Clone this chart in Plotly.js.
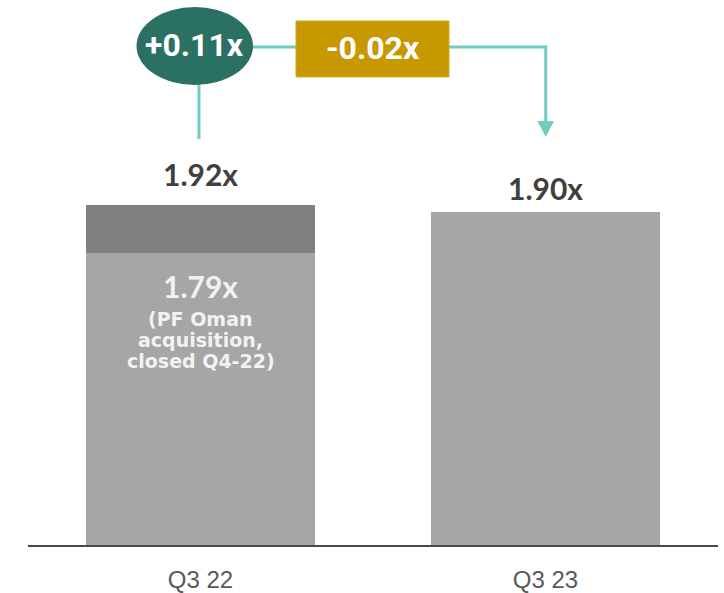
<!DOCTYPE html>
<html>
<head>
<meta charset="utf-8">
<script src="https://cdn.plot.ly/plotly-3.0.1.min.js"></script>
<style>
  html, body { margin: 0; padding: 0; background: #ffffff; }
  #chart { width: 724px; height: 593px; }
</style>
</head>
<body>
<div id="chart"></div>
<script>
// ---- data ----
const categories = ['Q3 22', 'Q3 23'];
const baseValues = [1.79, 1.90];          // PF Oman / reported leverage
const totalValues = [1.92, 1.90];         // total leverage labels
const totalLabels = ['1.92x', '1.90x'];
const baseLabel = '1.79x';
const baseNote = ['(PF Oman', 'acquisition,', 'closed Q4-22)'];
const bridgeLabels = ['+0.11x', '-0.02x'];

const topSegment = totalValues.map((t, i) => Math.max(0, +(t - baseValues[i]).toFixed(2)));

// ---- layout helpers (pixel -> paper) ----
const W = 724, H = 593;
const M = { l: 28, r: 6, t: 0, b: 48 };
const PW = W - M.l - M.r, PH = H - M.t - M.b;
const px = x => (x - M.l) / PW;
const py = y => (H - M.b - y) / PH;

const lineColor = '#6FCDBF';
const darkText = '#404040';

const traces = [
  {
    type: 'bar', x: categories, y: baseValues, width: 0.666,
    marker: { color: '#A6A6A6', line: { width: 0 } }, hoverinfo: 'skip'
  },
  {
    type: 'bar', x: categories, y: topSegment, width: 0.666,
    marker: { color: '#7F7F7F', line: { width: 0 } }, hoverinfo: 'skip'
  }
];

const annotations = [];
const totalShift = [31, 24];
categories.forEach((c, i) => {
  annotations.push({
    x: c, y: totalValues[i], xref: 'x', yref: 'y', yanchor: 'middle', yshift: totalShift[i],
    text: '<b>' + totalLabels[i] + '</b>', showarrow: false,
    font: { family: 'Lato, DejaVu Sans, sans-serif', size: 30, color: darkText, weight: 900 }
  });
});
annotations.push({
  x: categories[0], y: baseValues[0], xref: 'x', yref: 'y', yanchor: 'middle', yshift: -33,
  text: '<b>' + baseLabel + '</b>', showarrow: false,
  font: { family: 'Lato, DejaVu Sans, sans-serif', size: 30, color: '#F2F2F2', weight: 900 }
});
const noteShift = [-66, -87, -108];
baseNote.forEach((t, k) => {
  annotations.push({
    x: categories[0], y: baseValues[0], xref: 'x', yref: 'y', yanchor: 'middle', yshift: noteShift[k],
    text: '<b>' + t + '</b>', showarrow: false,
    font: { family: 'DejaVu Sans, sans-serif', size: 19, color: '#F2F2F2' }
  });
});
annotations.push({
  x: px(194.5), y: py(45), xref: 'paper', yref: 'paper', xanchor: 'center', yanchor: 'middle',
  text: '<b>' + bridgeLabels[0] + '</b>', showarrow: false,
  font: { family: 'Roboto, sans-serif', size: 32, color: '#FFFFFF' }
});
annotations.push({
  x: px(373), y: py(48), xref: 'paper', yref: 'paper', xanchor: 'center', yanchor: 'middle',
  text: '<b>' + bridgeLabels[1] + '</b>', showarrow: false,
  font: { family: 'Roboto, sans-serif', size: 32, color: '#FFFFFF' }
});

const shapes = [
  // connector lines
  { type: 'line', xref: 'paper', yref: 'paper', x0: px(199), x1: px(199), y0: py(80), y1: py(139),
    line: { color: lineColor, width: 3 } },
  { type: 'line', xref: 'paper', yref: 'paper', x0: px(245), x1: px(300), y0: py(47), y1: py(47),
    line: { color: lineColor, width: 3 } },
  { type: 'path', xref: 'paper', yref: 'paper',
    path: `M ${px(445)} ${py(47)} L ${px(545.7)} ${py(47)} L ${px(545.7)} ${py(123)}`,
    line: { color: lineColor, width: 3 } },
  { type: 'path', xref: 'paper', yref: 'paper',
    path: `M ${px(537.5)} ${py(121)} L ${px(554)} ${py(121)} L ${px(545.7)} ${py(137)} Z`,
    fillcolor: lineColor, line: { color: lineColor, width: 0 } },
  // ellipse and box
  { type: 'circle', xref: 'paper', yref: 'paper', x0: px(136.5), x1: px(253), y0: py(85), y1: py(7),
    fillcolor: '#2A7163', line: { width: 0 } },
  { type: 'rect', xref: 'paper', yref: 'paper', x0: px(296), x1: px(449), y0: py(77), y1: py(21),
    fillcolor: '#C89800', line: { color: '#D4A92A', width: 1 } }
];

const layout = {
  width: W, height: H,
  margin: M,
  paper_bgcolor: '#ffffff', plot_bgcolor: '#ffffff',
  barmode: 'stack',
  showlegend: false,
  xaxis: {
    type: 'category', range: [-0.5, 1.5], showgrid: false, zeroline: false,
    showline: true, linecolor: '#4A4A4A', linewidth: 2, ticks: '',
    ticklabelstandoff: 12,
    tickfont: { family: '"Liberation Sans", Arial, sans-serif', size: 24, color: '#595959' }
  },
  yaxis: {
    range: [1.0, 2.473], visible: false, showgrid: false, zeroline: false, fixedrange: true
  },
  annotations: annotations,
  shapes: shapes
};

Plotly.newPlot('chart', traces, layout, { staticPlot: true, displayModeBar: false });
</script>
</body>
</html>
